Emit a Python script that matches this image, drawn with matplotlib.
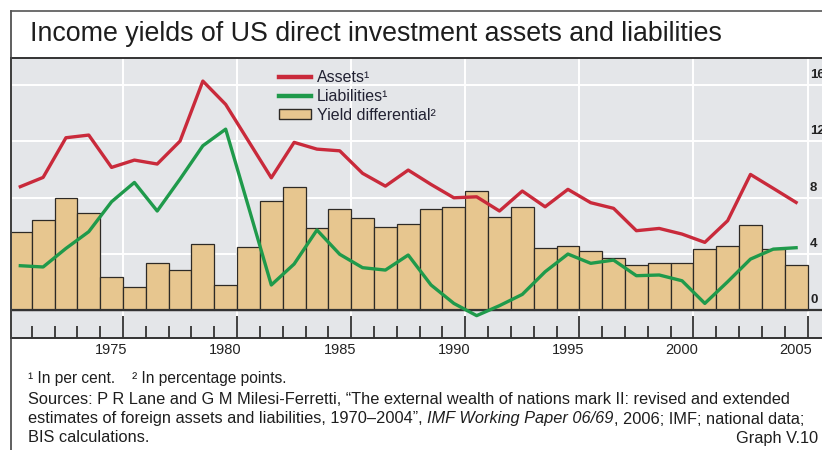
import matplotlib
matplotlib.use("Agg")
import matplotlib.pyplot as plt
from matplotlib import font_manager
from matplotlib.lines import Line2D
from matplotlib.patches import Patch
import matplotlib.transforms as mtransforms

# ---------------- data ----------------
years = list(range(1971, 2006))
assets = [8.77, 9.43, 12.25, 12.44, 10.14, 10.66, 10.38, 12.01, 16.28, 14.62,
          12.01, 9.40, 11.92, 11.44, 11.32, 9.72, 8.81, 9.95, 8.93, 7.98,
          8.05, 7.04, 8.46, 7.34, 8.58, 7.63, 7.23, 5.64, 5.80, 5.40,
          4.81, 6.35, 9.64, 8.65, 7.65]
liabilities = [3.15, 3.06, 4.38, 5.57, 7.70, 9.07, 7.04, 9.31, 11.68, 12.86,
               7.34, 1.78, 3.27, 5.69, 3.96, 3.01, 2.84, 3.91, 1.78, 0.47,
               -0.40, 0.31, 1.11, 2.72, 3.98, 3.32, 3.55, 2.44, 2.49, 2.08,
               0.47, 2.01, 3.62, 4.33, 4.43]
differential = [5.56, 6.40, 7.98, 6.87, 2.37, 1.61, 3.36, 2.84, 4.67, 1.78,
                4.46, 7.77, 8.72, 5.80, 7.15, 6.51, 5.92, 6.09, 7.18, 7.34,
                8.46, 6.63, 7.30, 4.43, 4.55, 4.22, 3.72, 3.20, 3.32, 3.32,
                4.31, 4.55, 6.04, 4.33, 3.20]
label_years = [1975, 1980, 1985, 1990, 1995, 2000, 2005]
y_ticks = [0, 4, 8, 12, 16]

title = "Income yields of US direct investment assets and liabilities"
series_labels = ["Assets\u00b9", "Liabilities\u00b9", "Yield differential\u00b2"]

# ---------------- fonts ----------------
available = {f.name for f in font_manager.fontManager.ttflist}
narrow = "Liberation Sans Narrow" if "Liberation Sans Narrow" in available else "Liberation Sans"
regular = "Liberation Sans"
plt.rcParams["font.family"] = [regular, "DejaVu Sans"]

RED = "#c92a3b"
GREEN = "#1f9a4b"
TAN = "#e7c68f"
EDGE = "#2d2a26"
PANEL = "#e4e6e9"
DARK = "#333333"
TXT = "#1e1e1e"

W, H = 822, 450
fig = plt.figure(figsize=(W / 100, H / 100), dpi=100, facecolor="white")

def fx(px):
    return px / W

def fy(py):
    return 1 - py / H

ax_left, ax_right, ax_top, ax_bottom = 11, 822, 58, 338
ax = fig.add_axes([fx(ax_left), fy(ax_bottom), fx(ax_right - ax_left), (ax_bottom - ax_top) / H])
ax.set_facecolor(PANEL)

ax.set_xlim(1970.592, 2006.135)
ax.set_ylim(-1.99, 17.92)

# grid
major_bounds = [y + 0.5 for y in label_years]
for gy in y_ticks[1:]:
    ax.axhline(gy, color="white", lw=1.4, zorder=0.5)
for gx in major_bounds:
    ax.axvline(gx, color="white", lw=1.4, zorder=0.5)

ax.bar(years, differential, width=1.0, color=TAN, edgecolor=EDGE, linewidth=0.9, zorder=2)
ax.axhline(0, color=DARK, lw=1.6, zorder=2.5)
ax.plot(years, assets, color=RED, lw=2.4, zorder=3, solid_joinstyle="round")
ax.plot(years, liabilities, color=GREEN, lw=2.4, zorder=3, solid_joinstyle="round")

# spines
for s in ["left", "top", "bottom"]:
    ax.spines[s].set_color(DARK)
    ax.spines[s].set_linewidth(1.4)
ax.spines["right"].set_visible(False)

# x ticks: long ones at 5-year boundaries, short ones at other year boundaries
ax.set_xticks(major_bounds)
ax.set_xticklabels([])
minor_bounds = [y + 0.5 for y in years[:-1] if (y + 0.5) not in major_bounds]
ax.set_xticks(minor_bounds, minor=True)
ax.tick_params(axis="x", which="major", direction="in", length=16, width=1.3, color=DARK)
ax.tick_params(axis="x", which="minor", direction="in", length=8.6, width=1.3, color=DARK)

sec = ax.secondary_xaxis("bottom")
sec.set_xticks(label_years)
sec.set_xticklabels([str(y) for y in label_years], fontfamily=narrow, fontsize=10.5, color="#222222")
sec.tick_params(axis="x", length=0, pad=3.5)
sec.spines["bottom"].set_visible(False)

ax.set_yticks([])
lab_tr = mtransforms.blended_transform_factory(ax.transAxes, ax.transData) + \
    mtransforms.ScaledTranslation(0, 10 / 100, fig.dpi_scale_trans)
for v in y_ticks:
    ax.text((810 - ax_left) / (ax_right - ax_left), v, str(v), transform=lab_tr,
            ha="left", va="center", fontsize=9.5, fontweight="bold", color="#222222",
            fontfamily=regular)

# legend
handles = [Line2D([], [], color=RED, lw=3.2),
           Line2D([], [], color=GREEN, lw=3.2),
           Patch(facecolor=TAN, edgecolor=EDGE, linewidth=1.0)]
leg = ax.legend(handles, series_labels, loc="upper left",
                bbox_to_anchor=((279 - ax_left) / (ax_right - ax_left), 1 - 12 / (ax_bottom - ax_top)),
                frameon=False, fontsize=11.5, handlelength=2.0, handleheight=0.6,
                handletextpad=0.35, labelspacing=0.25, borderpad=0, borderaxespad=0)
for t in leg.get_texts():
    t.set_color("#222233")

# frame lines
fig.add_artist(Line2D([fx(11), fx(11)], [fy(11), 0], color="#444444", lw=1.2))
fig.add_artist(Line2D([fx(11), 1], [fy(11), fy(11)], color="#555555", lw=1.2))

# title
fig.text(fx(30), fy(34), title, ha="left", va="center", fontsize=19.3,
         fontfamily=narrow, color=TXT)

# footnotes
fn = 11.8
fig.text(fx(28), fy(378), "\u00b9 In per cent.    \u00b2 In percentage points.", ha="left", va="center",
         fontsize=11.2, fontfamily=narrow, color=TXT)
fig.text(fx(28), fy(400), "Sources: P R Lane and G M Milesi-Ferretti, \u201cThe external wealth of nations mark II: revised and extended",
         ha="left", va="center", fontsize=fn, fontfamily=regular, color=TXT)
t1 = fig.text(fx(28), fy(419), "estimates of foreign assets and liabilities, 1970\u20132004\u201d, ",
              ha="left", va="center", fontsize=fn, fontfamily=regular, color=TXT)
a2 = fig.add_artist(plt.Annotation("IMF Working Paper 06/69", xy=(1, 0), xycoords=t1, ha="left", va="bottom",
                                   fontsize=fn, fontfamily=regular, style="italic", color=TXT))
fig.add_artist(plt.Annotation(", 2006; IMF; national data;", xy=(1, 0), xycoords=a2, ha="left", va="bottom",
                              fontsize=fn, fontfamily=regular, color=TXT))
fig.text(fx(28), fy(438), "BIS calculations.", ha="left", va="center", fontsize=fn,
         fontfamily=regular, color=TXT)
fig.text(fx(818), fy(438), "Graph V.10", ha="right", va="center", fontsize=fn,
         fontfamily=regular, color=TXT)

fig.savefig("out.png", dpi=100, facecolor="white")
